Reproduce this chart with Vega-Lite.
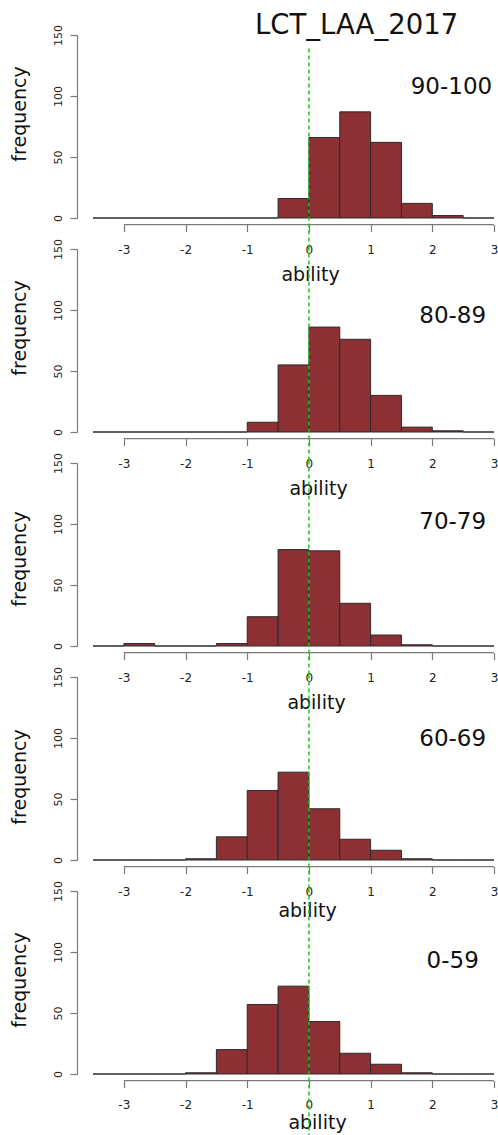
{
  "$schema": "https://vega.github.io/schema/vega-lite/v6.json",
  "padding": {"left": 10, "top": 12, "right": 0, "bottom": 0},
  "background": "white",
  "title": {"text": "LCT_LAA_2017", "font": "DejaVu Sans", "fontSize": 27.5, "fontWeight": "normal", "color": "#111", "anchor": "start", "frame": "group", "dx": 162, "offset": -15},
  "datasets": {
    "hist": [
      {"p": "90-100", "start": -3.5, "end": -3, "count": 0},
      {"p": "90-100", "start": -3, "end": -2.5, "count": 0},
      {"p": "90-100", "start": -2.5, "end": -2, "count": 0},
      {"p": "90-100", "start": -2, "end": -1.5, "count": 0},
      {"p": "90-100", "start": -1.5, "end": -1, "count": 0},
      {"p": "90-100", "start": -1, "end": -0.5, "count": 0},
      {"p": "90-100", "start": -0.5, "end": 0, "count": 16},
      {"p": "90-100", "start": 0, "end": 0.5, "count": 66},
      {"p": "90-100", "start": 0.5, "end": 1, "count": 87},
      {"p": "90-100", "start": 1, "end": 1.5, "count": 62},
      {"p": "90-100", "start": 1.5, "end": 2, "count": 12},
      {"p": "90-100", "start": 2, "end": 2.5, "count": 2},
      {"p": "90-100", "start": 2.5, "end": 3, "count": 0},
      {"p": "80-89", "start": -3.5, "end": -3, "count": 0},
      {"p": "80-89", "start": -3, "end": -2.5, "count": 0},
      {"p": "80-89", "start": -2.5, "end": -2, "count": 0},
      {"p": "80-89", "start": -2, "end": -1.5, "count": 0},
      {"p": "80-89", "start": -1.5, "end": -1, "count": 0},
      {"p": "80-89", "start": -1, "end": -0.5, "count": 8},
      {"p": "80-89", "start": -0.5, "end": 0, "count": 55},
      {"p": "80-89", "start": 0, "end": 0.5, "count": 86},
      {"p": "80-89", "start": 0.5, "end": 1, "count": 76},
      {"p": "80-89", "start": 1, "end": 1.5, "count": 30},
      {"p": "80-89", "start": 1.5, "end": 2, "count": 4},
      {"p": "80-89", "start": 2, "end": 2.5, "count": 1},
      {"p": "80-89", "start": 2.5, "end": 3, "count": 0},
      {"p": "70-79", "start": -3.5, "end": -3, "count": 0},
      {"p": "70-79", "start": -3, "end": -2.5, "count": 2},
      {"p": "70-79", "start": -2.5, "end": -2, "count": 0},
      {"p": "70-79", "start": -2, "end": -1.5, "count": 0},
      {"p": "70-79", "start": -1.5, "end": -1, "count": 2},
      {"p": "70-79", "start": -1, "end": -0.5, "count": 24},
      {"p": "70-79", "start": -0.5, "end": 0, "count": 79},
      {"p": "70-79", "start": 0, "end": 0.5, "count": 78},
      {"p": "70-79", "start": 0.5, "end": 1, "count": 35},
      {"p": "70-79", "start": 1, "end": 1.5, "count": 9},
      {"p": "70-79", "start": 1.5, "end": 2, "count": 1},
      {"p": "70-79", "start": 2, "end": 2.5, "count": 0},
      {"p": "70-79", "start": 2.5, "end": 3, "count": 0},
      {"p": "60-69", "start": -3.5, "end": -3, "count": 0},
      {"p": "60-69", "start": -3, "end": -2.5, "count": 0},
      {"p": "60-69", "start": -2.5, "end": -2, "count": 0},
      {"p": "60-69", "start": -2, "end": -1.5, "count": 1},
      {"p": "60-69", "start": -1.5, "end": -1, "count": 19},
      {"p": "60-69", "start": -1, "end": -0.5, "count": 57},
      {"p": "60-69", "start": -0.5, "end": 0, "count": 72},
      {"p": "60-69", "start": 0, "end": 0.5, "count": 42},
      {"p": "60-69", "start": 0.5, "end": 1, "count": 17},
      {"p": "60-69", "start": 1, "end": 1.5, "count": 8},
      {"p": "60-69", "start": 1.5, "end": 2, "count": 1},
      {"p": "60-69", "start": 2, "end": 2.5, "count": 0},
      {"p": "60-69", "start": 2.5, "end": 3, "count": 0},
      {"p": "0-59", "start": -3.5, "end": -3, "count": 0},
      {"p": "0-59", "start": -3, "end": -2.5, "count": 0},
      {"p": "0-59", "start": -2.5, "end": -2, "count": 0},
      {"p": "0-59", "start": -2, "end": -1.5, "count": 1},
      {"p": "0-59", "start": -1.5, "end": -1, "count": 20},
      {"p": "0-59", "start": -1, "end": -0.5, "count": 57},
      {"p": "0-59", "start": -0.5, "end": 0, "count": 72},
      {"p": "0-59", "start": 0, "end": 0.5, "count": 43},
      {"p": "0-59", "start": 0.5, "end": 1, "count": 17},
      {"p": "0-59", "start": 1, "end": 1.5, "count": 8},
      {"p": "0-59", "start": 1.5, "end": 2, "count": 1},
      {"p": "0-59", "start": 2, "end": 2.5, "count": 0},
      {"p": "0-59", "start": 2.5, "end": 3, "count": 0}
    ]
  },
  "spacing": 31,
  "bounds": "flush",
  "vconcat": [
    {
      "width": 401, "height": 183,
      "layer": [
        {"data": {"name": "hist"}, "transform": [{"filter": "datum.p === '90-100'"}],
         "mark": {"type": "bar", "fill": "#8C3034", "stroke": "#2b2b2b", "strokeWidth": 1, "opacity": 1},
         "encoding": {
           "x": {"field": "start", "type": "quantitative", "scale": {"domain": [-3.5, 3], "nice": false, "zero": false}, "axis": {"title": "ability", "values": [-3, -2, -1, 0, 1, 2, 3], "domain": false, "labelExpr": "'' + datum.value", "offset": 6.6, "labelPadding": 13, "titlePadding": 10, "titleX": 217}},
           "x2": {"field": "end"},
           "y": {"field": "count", "type": "quantitative", "scale": {"domain": [0, 150], "nice": false}, "axis": {"title": "frequency", "values": [0, 50, 100, 150], "titleY": 78.5}},
           "y2": {"datum": 0}
         }},
        {"data": {"values": [{}]}, "mark": {"type": "rule", "stroke": "#7a7a7a", "strokeWidth": 1.2}, "encoding": {"x": {"datum": -3}, "x2": {"datum": 3}, "y": {"datum": -5.4}}},
        {"data": {"values": [{}]}, "mark": {"type": "rule", "stroke": "#1fc41f", "strokeWidth": 1.5, "strokeDash": [4, 3]}, "encoding": {"x": {"datum": 0}, "y": {"datum": 139}, "y2": {"datum": -26}}},
        {"data": {"values": [{}]}, "mark": {"type": "text", "font": "DejaVu Sans", "fontSize": 23, "align": "center", "baseline": "middle", "color": "#111"}, "encoding": {"x": {"datum": 2.31}, "y": {"datum": 107}, "text": {"value": "90-100"}}}
      ]
    },
    {
      "width": 401, "height": 183,
      "layer": [
        {"data": {"name": "hist"}, "transform": [{"filter": "datum.p === '80-89'"}],
         "mark": {"type": "bar", "fill": "#8C3034", "stroke": "#2b2b2b", "strokeWidth": 1, "opacity": 1},
         "encoding": {
           "x": {"field": "start", "type": "quantitative", "scale": {"domain": [-3.5, 3], "nice": false, "zero": false}, "axis": {"title": "ability", "values": [-3, -2, -1, 0, 1, 2, 3], "domain": false, "labelExpr": "'' + datum.value", "offset": 6.6, "labelPadding": 13, "titlePadding": 10, "titleX": 225}},
           "x2": {"field": "end"},
           "y": {"field": "count", "type": "quantitative", "scale": {"domain": [0, 150], "nice": false}, "axis": {"title": "frequency", "values": [0, 50, 100, 150], "titleY": 78.5}},
           "y2": {"datum": 0}
         }},
        {"data": {"values": [{}]}, "mark": {"type": "rule", "stroke": "#7a7a7a", "strokeWidth": 1.2}, "encoding": {"x": {"datum": -3}, "x2": {"datum": 3}, "y": {"datum": -5.4}}},
        {"data": {"values": [{}]}, "mark": {"type": "rule", "stroke": "#1fc41f", "strokeWidth": 1.5, "strokeDash": [4, 3]}, "encoding": {"x": {"datum": 0}, "y": {"datum": 152}, "y2": {"datum": -26}}},
        {"data": {"values": [{}]}, "mark": {"type": "text", "font": "DejaVu Sans", "fontSize": 23, "align": "center", "baseline": "middle", "color": "#111"}, "encoding": {"x": {"datum": 2.33}, "y": {"datum": 95}, "text": {"value": "80-89"}}}
      ]
    },
    {
      "width": 401, "height": 183,
      "layer": [
        {"data": {"name": "hist"}, "transform": [{"filter": "datum.p === '70-79'"}],
         "mark": {"type": "bar", "fill": "#8C3034", "stroke": "#2b2b2b", "strokeWidth": 1, "opacity": 1},
         "encoding": {
           "x": {"field": "start", "type": "quantitative", "scale": {"domain": [-3.5, 3], "nice": false, "zero": false}, "axis": {"title": "ability", "values": [-3, -2, -1, 0, 1, 2, 3], "domain": false, "labelExpr": "'' + datum.value", "offset": 6.6, "labelPadding": 13, "titlePadding": 10, "titleX": 223}},
           "x2": {"field": "end"},
           "y": {"field": "count", "type": "quantitative", "scale": {"domain": [0, 150], "nice": false}, "axis": {"title": "frequency", "values": [0, 50, 100, 150], "titleY": 95.5}},
           "y2": {"datum": 0}
         }},
        {"data": {"values": [{}]}, "mark": {"type": "rule", "stroke": "#7a7a7a", "strokeWidth": 1.2}, "encoding": {"x": {"datum": -3}, "x2": {"datum": 3}, "y": {"datum": -5.4}}},
        {"data": {"values": [{}]}, "mark": {"type": "rule", "stroke": "#1fc41f", "strokeWidth": 1.5, "strokeDash": [4, 3]}, "encoding": {"x": {"datum": 0}, "y": {"datum": 152}, "y2": {"datum": -26}}},
        {"data": {"values": [{}]}, "mark": {"type": "text", "font": "DejaVu Sans", "fontSize": 23, "align": "center", "baseline": "middle", "color": "#111"}, "encoding": {"x": {"datum": 2.33}, "y": {"datum": 102}, "text": {"value": "70-79"}}}
      ]
    },
    {
      "width": 401, "height": 183,
      "layer": [
        {"data": {"name": "hist"}, "transform": [{"filter": "datum.p === '60-69'"}],
         "mark": {"type": "bar", "fill": "#8C3034", "stroke": "#2b2b2b", "strokeWidth": 1, "opacity": 1},
         "encoding": {
           "x": {"field": "start", "type": "quantitative", "scale": {"domain": [-3.5, 3], "nice": false, "zero": false}, "axis": {"title": "ability", "values": [-3, -2, -1, 0, 1, 2, 3], "domain": false, "labelExpr": "'' + datum.value", "offset": 6.6, "labelPadding": 13, "titlePadding": 4, "titleX": 214}},
           "x2": {"field": "end"},
           "y": {"field": "count", "type": "quantitative", "scale": {"domain": [0, 150], "nice": false}, "axis": {"title": "frequency", "values": [0, 50, 100, 150], "titleY": 99.5}},
           "y2": {"datum": 0}
         }},
        {"data": {"values": [{}]}, "mark": {"type": "rule", "stroke": "#7a7a7a", "strokeWidth": 1.2}, "encoding": {"x": {"datum": -3}, "x2": {"datum": 3}, "y": {"datum": -5.4}}},
        {"data": {"values": [{}]}, "mark": {"type": "rule", "stroke": "#1fc41f", "strokeWidth": 1.5, "strokeDash": [4, 3]}, "encoding": {"x": {"datum": 0}, "y": {"datum": 152}, "y2": {"datum": -26}}},
        {"data": {"values": [{}]}, "mark": {"type": "text", "font": "DejaVu Sans", "fontSize": 23, "align": "center", "baseline": "middle", "color": "#111"}, "encoding": {"x": {"datum": 2.33}, "y": {"datum": 99}, "text": {"value": "60-69"}}}
      ]
    },
    {
      "width": 401, "height": 183,
      "layer": [
        {"data": {"name": "hist"}, "transform": [{"filter": "datum.p === '0-59'"}],
         "mark": {"type": "bar", "fill": "#8C3034", "stroke": "#2b2b2b", "strokeWidth": 1, "opacity": 1},
         "encoding": {
           "x": {"field": "start", "type": "quantitative", "scale": {"domain": [-3.5, 3], "nice": false, "zero": false}, "axis": {"title": "ability", "values": [-3, -2, -1, 0, 1, 2, 3], "domain": false, "labelExpr": "'' + datum.value", "offset": 6.6, "labelPadding": 12, "titlePadding": 3, "titleX": 224}},
           "x2": {"field": "end"},
           "y": {"field": "count", "type": "quantitative", "scale": {"domain": [0, 150], "nice": false}, "axis": {"title": "frequency", "values": [0, 50, 100, 150], "titleY": 88.5}},
           "y2": {"datum": 0}
         }},
        {"data": {"values": [{}]}, "mark": {"type": "rule", "stroke": "#7a7a7a", "strokeWidth": 1.2}, "encoding": {"x": {"datum": -3}, "x2": {"datum": 3}, "y": {"datum": -5.4}}},
        {"data": {"values": [{}]}, "mark": {"type": "rule", "stroke": "#1fc41f", "strokeWidth": 1.5, "strokeDash": [4, 3]}, "encoding": {"x": {"datum": 0}, "y": {"datum": 152}, "y2": {"datum": -50}}},
        {"data": {"values": [{}]}, "mark": {"type": "text", "font": "DejaVu Sans", "fontSize": 23, "align": "center", "baseline": "middle", "color": "#111"}, "encoding": {"x": {"datum": 2.33}, "y": {"datum": 93}, "text": {"value": "0-59"}}}
      ]
    }
  ],
  "config": {
    "view": {"stroke": null},
    "axis": {"grid": false, "labelFont": "DejaVu Sans", "titleFont": "DejaVu Sans", "labelFontSize": 11, "titleFontSize": 19, "titleFontWeight": "normal", "labelColor": "#222", "titleColor": "#111", "tickColor": "#7a7a7a", "domainColor": "#7a7a7a", "tickSize": 7, "tickWidth": 1.2, "domainWidth": 1.2, "labelFlush": false, "labelOverlap": false},
    "axisX": {"labelBaseline": "top", "labelFontSize": 12},
    "axisY": {"offset": 16, "labelAngle": -90, "labelAlign": "center", "labelBaseline": "bottom", "labelPadding": 7, "titlePadding": 23}
  }
}
